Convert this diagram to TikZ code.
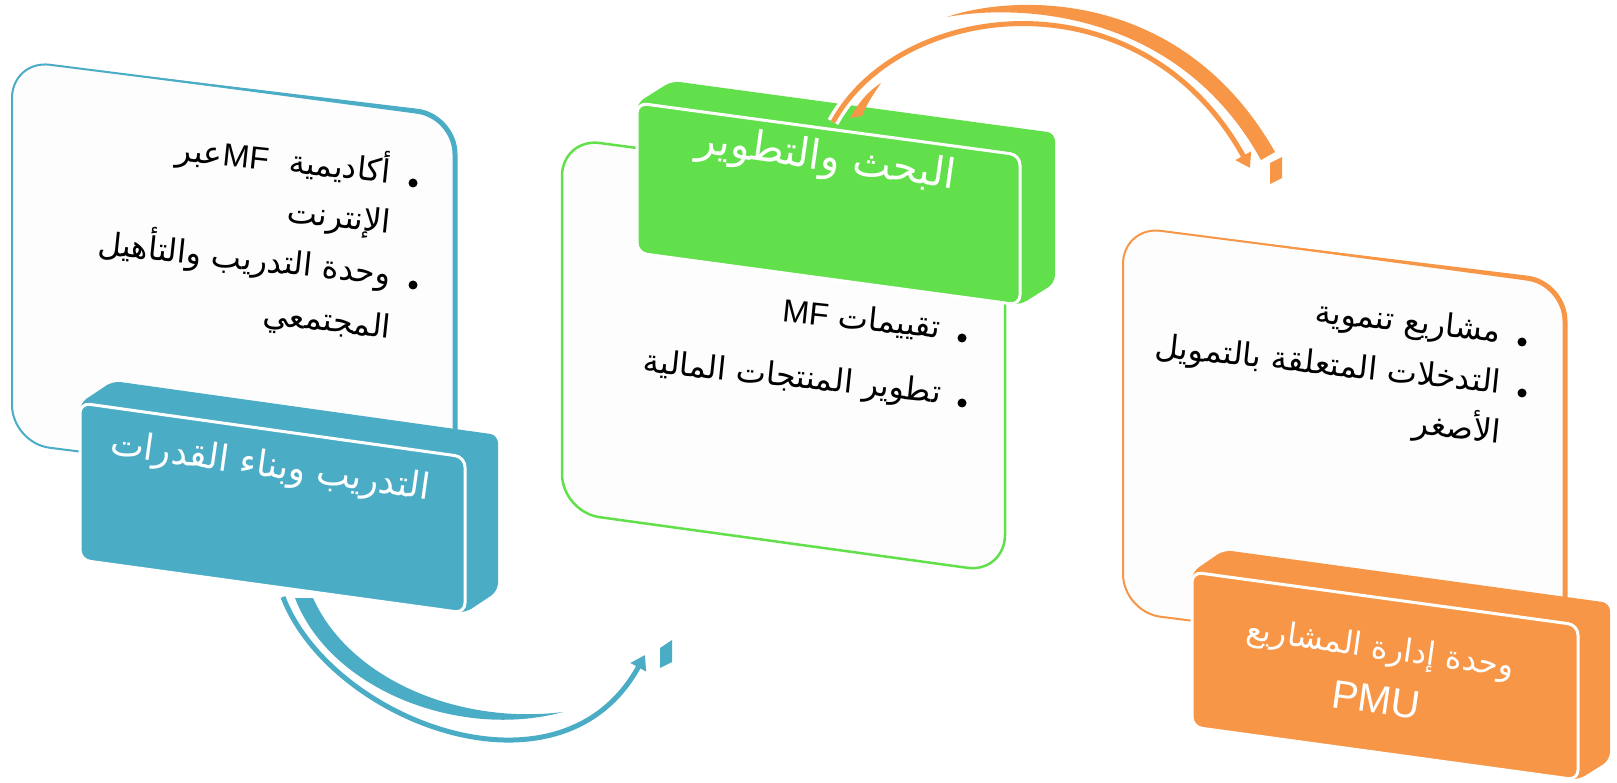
\documentclass[tikz,border=0pt]{standalone}
\usepackage{fontspec}
\setmainfont{Liberation Sans}
\newfontfamily\arabicfont[Script=Arabic]{DejaVu Sans}
\newfontfamily\latinf{Liberation Sans}
\TeXXeTstate=1
\usetikzlibrary{arrows.meta}
\definecolor{cblue}{HTML}{4BACC6}
\definecolor{cgreen}{HTML}{62E04B}
\definecolor{corange}{HTML}{F79646}
\definecolor{cpanel}{HTML}{FDFDFD}
\begin{document}
\begin{tikzpicture}[x=1pt,y=-1pt,
  panel/.style={fill=cpanel, rounded corners=38pt, line width=2pt},
  rim/.style={line width=5pt, rounded corners=38pt},
  backface/.style={rounded corners=8pt},
  frontface/.style={rounded corners=10pt, draw=white, line width=3pt},
  body/.style={font=\arabicfont\fontsize{32}{38}\selectfont, text=black, rotate=-6, inner sep=0pt, anchor=base east},
  head/.style={text=white, rotate=-8, inner sep=0pt, align=center},
  dot/.style={circle, fill=black, inner sep=0pt, minimum size=9pt}
]
\useasboundingbox (0,0) rectangle (1617,783);

% ---------- blue panel ----------
\coordinate (b1) at (12,60);
\coordinate (b2) at (455,116);
\coordinate (b3) at (455,499);
\coordinate (b4) at (12,443);
\draw[panel, draw=cblue] (b1) -- (b2) -- (b3) -- (b4) -- cycle;
\fill[cblue] (50,64.8) -- (417,108.7) -- (417,113.7) -- cycle;
\draw[rim, cblue] (417,111.2) -- (b2) -- (455,430);

% ---------- blue arrow ----------
\coordinate (bas) at (283,597);
\coordinate (bae) at (645,655);
\draw[cblue, line width=5pt, -{Triangle[length=14pt,width=17pt]}] (bas) .. controls (330,720) and (560,810) .. (bae);
\fill[cblue] (295,598) .. controls (330,690) and (460,740) .. (563,712)
   .. controls (460,725) and (350,680) .. (313,598) -- cycle;
\fill[cblue] (660,648) -- (672,640) -- (672,662) -- (660,668) -- cycle;

% ---------- blue header ----------
\fill[cblue, backface] (80,403) -- (113,381) -- (498,435) -- (498,591) -- (465,613) -- (80,560) -- cycle;
\draw[frontface, fill=cblue] (80,403) -- (465,457) -- (465,613) -- (80,560) -- cycle;
\node[head, font=\arabicfont\fontsize{36}{44}\selectfont] (bh) at (270,468) {\beginR التدريب وبناء القدرات\endR};

% ---------- green panel ----------
\coordinate (g1) at (562,138);
\coordinate (g2) at (1005,197);
\coordinate (g3) at (1005,573);
\coordinate (g4) at (562,512);
\draw[panel, draw=cgreen, line width=2.5pt] (g1) -- (g2) -- (g3) -- (g4) -- cycle;

% ---------- green header (back) ----------
\fill[cgreen, backface] (637,103) -- (672,81) -- (1055,133) -- (1055,283) -- (1020,305) -- (637,253) -- cycle;

% ---------- orange arrow ----------
\coordinate (oas) at (833,122);
\coordinate (oae) at (1250,168);
\draw[white, line width=12pt] (oas) .. controls (900,0) and (1140,-30) .. (oae);
\draw[corange, line width=5pt, -{Triangle[length=14pt,width=17pt]}] (oas) .. controls (900,0) and (1140,-30) .. (oae);
\fill[corange] (850,118) .. controls (860,100) and (870,90) .. (881,83) .. controls (873,95) and (866,105) .. (862,116) -- cycle;
\fill[corange] (947,17) .. controls (1010,-5) and (1180,-15) .. (1275,152)
   -- (1261,160) .. controls (1175,5) and (1010,5) .. (947,17) -- cycle;
\fill[corange] (1270,163) -- (1282,157) -- (1282,178) -- (1270,184) -- cycle;

% ---------- green header (front) ----------
\draw[frontface, fill=cgreen] (637,103) -- (1020,155) -- (1020,305) -- (637,253) -- cycle;
\node[head, font=\arabicfont\fontsize{41}{48}\selectfont] (gh) at (826,160) {\beginR البحث والتطوير\endR};

% ---------- orange panel ----------
\coordinate (o1) at (1123,226);
\coordinate (o2) at (1565,283);
\coordinate (o3) at (1565,668);
\coordinate (o4) at (1123,612);
\draw[panel, draw=corange] (o1) -- (o2) -- (o3) -- (o4) -- cycle;
\fill[corange] (1160,230.8) -- (1527,275.6) -- (1527,280.6) -- cycle;
\draw[rim, corange] (1527,278.1) -- (o2) -- (1565,600);

% ---------- orange header ----------
\fill[corange, backface] (1192,572) -- (1224,550) -- (1610,603) -- (1610,760) -- (1578,780) -- (1192,727) -- cycle;
\draw[frontface, fill=corange] (1192,572) -- (1578,625) -- (1578,780) -- (1192,727) -- cycle;
\node[head, font=\arabicfont\fontsize{32}{40}\selectfont] (oh1) at (1380,650) {\beginR وحدة إدارة المشاريع\endR};
\node[head, font=\latinf\fontsize{40}{46}\selectfont] (oh2) at (1376,700) {PMU};

% ---------- blue content ----------
\node[dot] (bd1) at (413,183) {};
\node[body] (bt1) at (390,183) {\beginR أكاديمية\ \ \beginL{\latinf MF}\endL عبر\endR};
\node[body] (bt2) at (390,233) {\beginR الإنترنت\endR};
\node[dot] (bd2) at (413,285) {};
\node[body] (bt3) at (390,285) {\beginR وحدة التدريب والتأهيل\endR};
\node[body] (bt4) at (390,338) {\beginR المجتمعي\endR};

% ---------- green content ----------
\node[dot] (gd1) at (962,338) {};
\node[body] (gt1) at (940,338) {\beginR تقييمات \beginL{\latinf MF}\endL\endR};
\node[dot] (gd2) at (962,403) {};
\node[body] (gt2) at (940,403) {\beginR تطوير المنتجات المالية\endR};

% ---------- orange content ----------
\node[dot] (od1) at (1522,342) {};
\node[body] (ot1) at (1500,342) {\beginR مشاريع تنموية\endR};
\node[dot] (od2) at (1522,393) {};
\node[body] (ot2) at (1500,393) {\beginR التدخلات المتعلقة بالتمويل\endR};
\node[body] (ot3) at (1500,443) {\beginR الأصغر\endR};
\end{tikzpicture}
\end{document}
